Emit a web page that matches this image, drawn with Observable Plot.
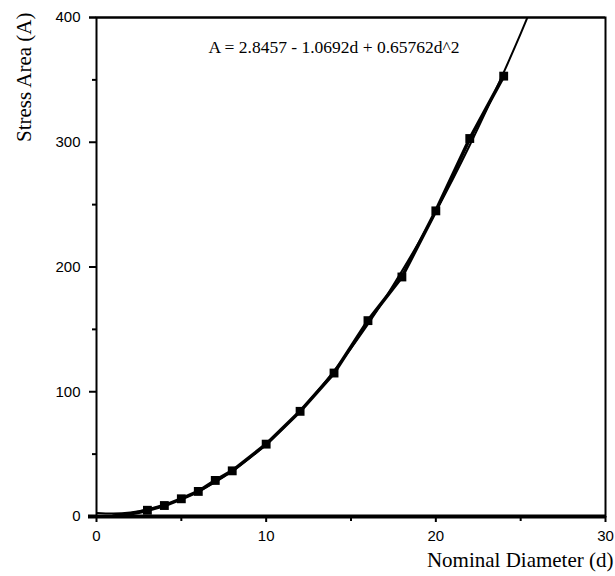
<!DOCTYPE html>
<html>
<head>
<meta charset="utf-8">
<script src="https://cdn.jsdelivr.net/npm/d3@7"></script>
<script src="https://cdn.jsdelivr.net/npm/@observablehq/plot@0.6"></script>
<style>
  html, body { margin: 0; padding: 0; background: #fff; }
</style>
</head>
<body>
<div id="chart"></div>
<script>
// Measured stress areas (A) vs nominal diameter (d)
const diameters = [1, 1.6, 2, 2.5, 3, 4, 5, 6, 7, 8, 10, 12, 14, 16, 18, 20, 22, 24];
const areas     = [0.5, 1.3, 2.1, 3.4, 5.0, 8.8, 14.2, 20.1, 28.9, 36.6, 58.0, 84.3, 115, 157, 192, 245, 303, 353];

// Fitted curve
const curveD = [0, 1, 2, 3, 4, 5, 6, 7, 8, 9, 10, 11, 12, 13, 14, 15, 16, 17, 18, 19, 20, 21, 22, 23, 24, 25, 26];
const curveA = [2.8, 2.4, 3.3, 5.6, 9.1, 13.9, 20.1, 27.6, 36.4, 46.5, 57.9, 70.7, 84.7, 100.1, 116.8, 134.8, 154.1, 174.7, 196.7, 219.9, 244.5, 270.4, 297.6, 326.1, 356.0, 387.1, 419.6];

const xMajor = [0, 10, 20, 30];
const xMinor = [5, 15, 25];
const yMajor = [0, 100, 200, 300, 400];
const yMinor = [50, 150, 250, 350];

const equation = "A = 2.8457 - 1.0692d + 0.65762d^2";
const eqPos = {x: 14, y: 376};

const points = diameters.map((d, i) => ({d, a: areas[i]}));
const curve = curveD.map((d, i) => ({d, a: curveA[i]}));

const serif = "'Liberation Serif', 'Times New Roman', serif";

const chart = Plot.plot({
  width: 615,
  height: 576,
  marginLeft: 96,
  marginRight: 10,
  marginTop: 17,
  marginBottom: 60,
  style: {fontFamily: "'Liberation Sans', Arial, sans-serif", fontSize: "15px", color: "#000", background: "#fff"},
  x: {domain: [0, 30]},
  y: {domain: [0, 400]},
  marks: [
    Plot.axisX({ticks: xMajor, tickSize: 6, tickPadding: 8, label: null, fontSize: 15, strokeWidth: 2}),
    Plot.axisX({ticks: xMinor, tickSize: 5, text: null, label: null, strokeWidth: 2}),
    Plot.axisY({ticks: yMajor, tickSize: 7, tickPadding: 9, label: null, fontSize: 15, strokeWidth: 2}),
    Plot.axisY({ticks: yMinor, tickSize: 4, text: null, label: null, strokeWidth: 2}),
    Plot.frame({stroke: "#000", strokeWidth: 2}),
    Plot.ruleY([400], {stroke: "#000", strokeWidth: 2, x1: 0, x2: 30, insetLeft: -7}),
    Plot.ruleY([0], {stroke: "#000", strokeWidth: 4, x1: 0, x2: 30, insetLeft: -8}),
    Plot.line(curve, {x: "d", y: "a", stroke: "#000", strokeWidth: 2, curve: "natural", clip: true}),
    Plot.line(points, {x: "d", y: "a", stroke: "#000", strokeWidth: 3.5}),
    Plot.dot(points.filter(p => p.d >= 3), {x: "d", y: "a", symbol: "square", r: 5, fill: "#000", stroke: "none"}),
    Plot.text([equation], {x: () => eqPos.x, y: () => eqPos.y, text: d => d, fontFamily: serif, fontSize: 17.5, fill: "#000"}),
    Plot.text(["Stress Area (A)"], {frameAnchor: "top-left", text: d => d, rotate: -90, textAnchor: "end", dx: -80, dy: -5, fontFamily: serif, fontSize: 21, fill: "#000"}),
    Plot.text(["Nominal Diameter (d)"], {frameAnchor: "bottom-right", text: d => d, textAnchor: "end", dx: 8, dy: 50, fontFamily: serif, fontSize: 21, fill: "#000"})
  ]
});
document.getElementById("chart").appendChild(chart);
</script>
</body>
</html>
